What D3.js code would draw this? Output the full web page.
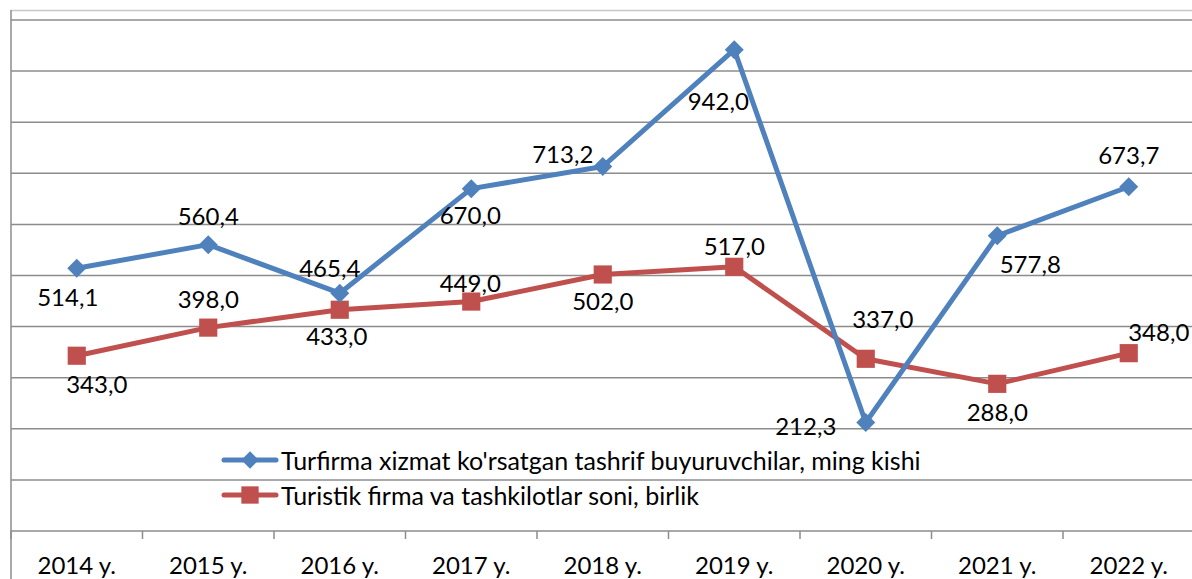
<!DOCTYPE html>
<html>
<head>
<meta charset="utf-8">
<script src="https://cdn.jsdelivr.net/npm/d3@7"></script>
<style>
  body { margin: 0; background: #fff; }
  svg { display: block; font-family: Lato, "Open Sans", sans-serif; }
</style>
</head>
<body>
<script>
const YEARS = ["2014 y.", "2015 y.", "2016 y.", "2017 y.", "2018 y.", "2019 y.", "2020 y.", "2021 y.", "2022 y."];
const VISITORS = [514.1, 560.4, 465.4, 670.0, 713.2, 942.0, 212.3, 577.8, 673.7];
const FIRMS = [343.0, 398.0, 433.0, 449.0, 502.0, 517.0, 337.0, 288.0, 348.0];
const SERIES_NAMES = [
  "Turfirma xizmat ko'rsatgan tashrif buyuruvchilar, ming kishi",
  "Turistik firma va tashkilotlar soni, birlik"
];
const Y_TICKS = [0, 100, 200, 300, 400, 500, 600, 700, 800, 900, 1000];

// label offsets (dx, dy) from the marker, copied by eye
const visitorLabelPos = [[-9, 28], [0, -29], [-10, -26], [-1, 26], [-40, -13], [-16, 51], [-60, 3], [33, 28], [0, -32]];
const firmLabelPos = [[20, 28], [0, -29], [-3, 26], [-1, -19], [0, 26], [0, -21], [17, -40], [0, 28], [30, -22]];

const W = 1192,
  H = 579,
  plotLeft = 11,
  plotRight = 1194.5,
  plotTop = 20,
  plotBottom = 531,
  blue = "#4f81bd",
  red = "#c0504d",
  grid = "#8c8c8c";

const fmt = v => v.toFixed(1).replace(".", ",");

const svg = d3
  .select("body")
  .append("svg")
  .attr("width", W)
  .attr("height", H);

const xScale = d3.scaleBand().domain(YEARS).range([plotLeft, plotRight]);
const yScale = d3.scaleLinear().domain([0, 1000]).range([plotBottom, plotTop]);
const xMid = i => xScale(YEARS[i]) + xScale.bandwidth() / 2;

// frame top line
svg
  .append("line")
  .attr("x1", plotLeft)
  .attr("x2", W)
  .attr("y1", 10.5)
  .attr("y2", 10.5)
  .attr("stroke", "#c8c8c8")
  .attr("stroke-width", 1.5);

// grid lines
svg
  .append("g")
  .selectAll("line")
  .data(Y_TICKS)
  .enter()
  .append("line")
  .attr("x1", plotLeft)
  .attr("x2", W)
  .attr("y1", d => yScale(d))
  .attr("y2", d => yScale(d))
  .attr("stroke", grid)
  .attr("stroke-width", 1.5);

// left axis line
svg
  .append("line")
  .attr("x1", plotLeft)
  .attr("x2", plotLeft)
  .attr("y1", 10)
  .attr("y2", H)
  .attr("stroke", grid)
  .attr("stroke-width", 1.5);

// x axis ticks between categories
svg
  .append("g")
  .selectAll("line")
  .data(YEARS)
  .enter()
  .append("line")
  .attr("x1", d => xScale(d))
  .attr("x2", d => xScale(d))
  .attr("y1", plotBottom)
  .attr("y2", plotBottom + 8)
  .attr("stroke", grid)
  .attr("stroke-width", 1.5);

svg
  .append("g")
  .selectAll("text")
  .data(YEARS)
  .enter()
  .append("text")
  .attr("x", d => xScale(d) + xScale.bandwidth() / 2)
  .attr("y", 574)
  .attr("text-anchor", "middle")
  .attr("font-size", 24)
  .attr("fill", "#000")
  .text(d => d);

const line = d3
  .line()
  .x((d, i) => xMid(i))
  .y(d => yScale(d));

const diamond = d3.symbol().type(d3.symbolDiamond2).size(230);
const square = d3.symbol().type(d3.symbolSquare).size(330);

function drawSeries(values, color, symbol) {
  const g = svg.append("g");
  g.append("path")
    .datum(values)
    .attr("d", line)
    .attr("fill", "none")
    .attr("stroke", color)
    .attr("stroke-width", 5)
    .attr("stroke-linejoin", "round");
  g.selectAll(".mark")
    .data(values)
    .enter()
    .append("path")
    .attr("class", "mark")
    .attr("d", symbol)
    .attr("fill", color)
    .attr("transform", (d, i) => `translate(${xMid(i)},${yScale(d)})`);
}

function drawLabels(values, labelPos) {
  svg
    .append("g")
    .selectAll("text")
    .data(values)
    .enter()
    .append("text")
    .attr("x", (d, i) => xMid(i) + labelPos[i][0])
    .attr("y", (d, i) => yScale(d) + labelPos[i][1])
    .attr("text-anchor", "middle")
    .attr("dominant-baseline", "central")
    .attr("font-size", 24)
    .attr("fill", "#000")
    .text(d => fmt(d));
}

drawSeries(FIRMS, red, square);
drawSeries(VISITORS, blue, diamond);
drawLabels(VISITORS, visitorLabelPos);
drawLabels(FIRMS, firmLabelPos);

// legend
const legend = svg.append("g");
const legendItems = [
  { name: SERIES_NAMES[0], color: blue, symbol: d3.symbol().type(d3.symbolDiamond2).size(190), y: 460 },
  { name: SERIES_NAMES[1], color: red, symbol: d3.symbol().type(d3.symbolSquare).size(300), y: 495 }
];
legendItems.forEach(item => {
  legend
    .append("line")
    .attr("x1", 224)
    .attr("x2", 276)
    .attr("y1", item.y)
    .attr("y2", item.y)
    .attr("stroke", item.color)
    .attr("stroke-width", 5)
    .attr("stroke-linecap", "round");
  legend
    .append("path")
    .attr("d", item.symbol)
    .attr("fill", item.color)
    .attr("transform", `translate(250,${item.y})`);
  legend
    .append("text")
    .attr("x", 281)
    .attr("y", item.y)
    .attr("dominant-baseline", "central")
    .attr("font-size", 25)
    .attr("fill", "#000")
    .text(item.name);
});
</script>
</body>
</html>
